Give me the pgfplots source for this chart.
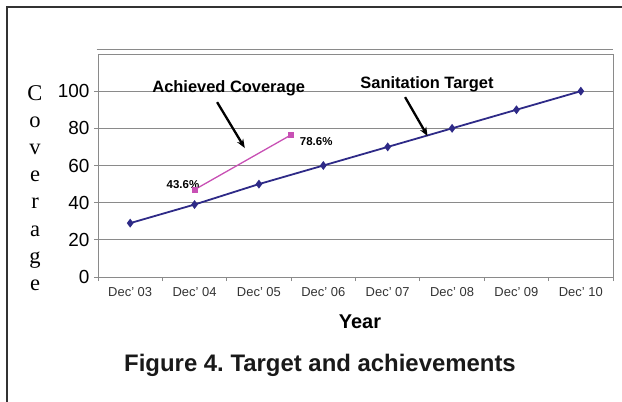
\documentclass[border=0pt]{standalone}
\usepackage{pgfplots}
\pgfplotsset{compat=1.18}
\usepackage{fontspec}
\setmainfont{Liberation Sans}
\newfontfamily\timesf{Liberation Serif}
\usetikzlibrary{arrows.meta}
\definecolor{navyline}{HTML}{2E2A87}
\definecolor{pinkline}{HTML}{C850B4}
\definecolor{gridgray}{HTML}{8A8A8A}
\definecolor{labelgray}{HTML}{333333}
\frenchspacing

\begin{document}
\begin{tikzpicture}[x=1bp,y=1bp]
\useasboundingbox (0,0) rectangle (622,-401);
% outer frame (only left and top edges fall on the page)
\draw[line width=1.3bp, black!80] (7,-420) -- (7,-7) -- (640,-7);

\begin{axis}[
  at={(98bp,-277bp)}, anchor=south west,
  scale only axis, width=515bp, height=223bp,
  xmin=-0.5, xmax=7.5, ymin=0, ymax=120,
  xtick={-0.5,0.5,...,7.5},
  x tick label as interval,
  xticklabels={Dec' 03, Dec' 04, Dec' 05, Dec' 06, Dec' 07, Dec' 08, Dec' 09, Dec' 10},
  ytick={0,20,...,100},
  tick pos=left, tick align=outside,
  major tick length=4bp,
  ymajorgrids,
  grid style={gridgray, line width=0.9bp},
  axis line style={gridgray, line width=0.9bp},
  tick style={gridgray, line width=0.9bp},
  /pgf/number format/assume math mode=true,
  xticklabel style={font=\fontsize{13}{13}\selectfont, text=labelgray, yshift=-3bp},
  yticklabel style={font=\fontsize{19}{19}\selectfont, text=black, xshift=-1bp},
  clip=false,
]
\addplot[navyline, line width=1.8bp, mark=diamond*, mark size=3bp,
  mark options={fill=navyline, draw=navyline}] coordinates {
  (0,29) (1,39) (2,50) (3,60) (4,70) (5,80) (6,90) (7,100)
};
\addplot[pinkline, line width=1.3bp, mark=square*, mark size=2.3bp,
  mark options={fill=pinkline, draw=pinkline}] coordinates {
  (1,47) (2.5,76.5)
};
% double top edge as in the original
\draw[gridgray, line width=0.9bp] (axis cs:-0.52,122.2) -- (axis cs:7.5,122.2);

\node[font=\bfseries\fontsize{11.5}{11.5}\selectfont] at (axis cs:0.82,49.5) {43.6\%};
\node[font=\bfseries\fontsize{11.5}{11.5}\selectfont] at (axis cs:2.89,73.1) {78.6\%};
\node[font=\bfseries\fontsize{16.5}{16.5}\selectfont] at (axis cs:1.53,101.6) {Achieved Coverage};
\node[font=\bfseries\fontsize{16.5}{16.5}\selectfont] at (axis cs:4.61,103.8) {Sanitation Target};
\draw[line width=2.3bp, -{Stealth[length=9bp,width=7bp]}] (axis cs:1.35,94.1) -- (axis cs:1.78,69.4);
\draw[line width=2.3bp, -{Stealth[length=9bp,width=7bp]}] (axis cs:4.27,96.8) -- (axis cs:4.62,75.8);
\end{axis}

% stacked y label
\node[font=\timesf\fontsize{22.6}{27.3}\selectfont, align=center, inner sep=0pt]
  at (35,-188) {C\\o\\v\\e\\r\\a\\g\\e};
% x label and caption
\node[font=\bfseries\fontsize{20}{20}\selectfont] at (360,-322) {Year};
\node[font=\bfseries\fontsize{24}{24}\selectfont, text=black!90] at (320,-365) {Figure 4. Target and achievements};
\end{tikzpicture}
\end{document}
